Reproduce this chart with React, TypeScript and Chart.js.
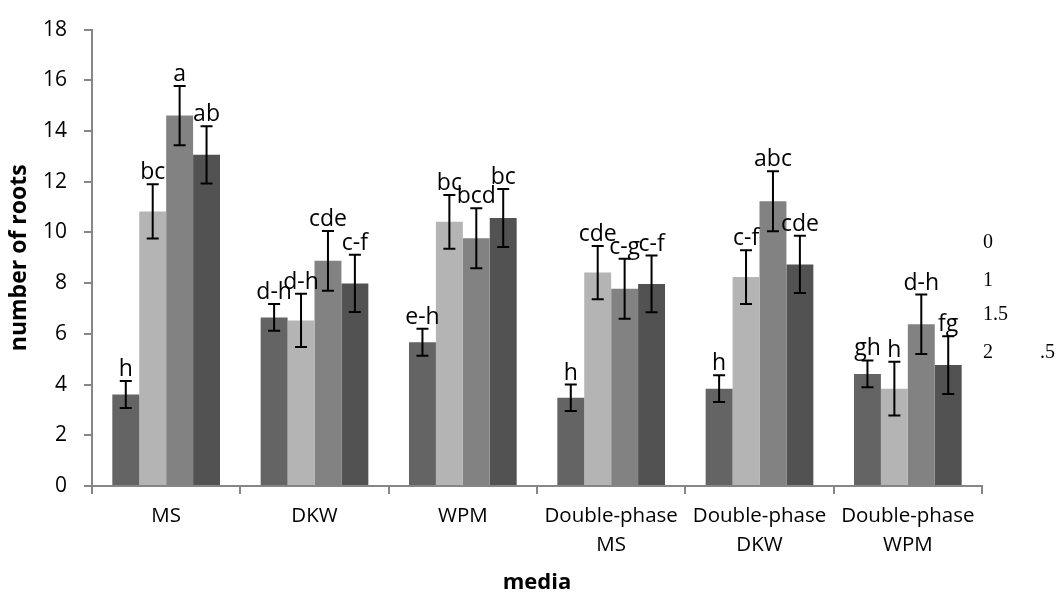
import React, { useEffect, useRef } from "react";
import { Chart, registerables } from "chart.js";

Chart.register(...registerables);

const categories: (string | string[])[] = [
  "MS",
  "DKW",
  "WPM",
  ["Double-phase", "MS"],
  ["Double-phase", "DKW"],
  ["Double-phase", "WPM"],
];

const seriesNames = ["0", "1", "1.5", "2"];

const s0 = [3.61, 6.65, 5.67, 3.48, 3.84, 4.42];
const s1 = [10.83, 6.53, 10.42, 8.42, 8.24, 3.84];
const s2 = [14.61, 8.88, 9.77, 7.78, 11.23, 6.38];
const s3 = [13.06, 7.99, 10.57, 7.97, 8.74, 4.77];

const e0 = [0.53, 0.53, 0.53, 0.52, 0.53, 0.53];
const e1 = [1.07, 1.05, 1.06, 1.05, 1.06, 1.06];
const e2 = [1.17, 1.18, 1.18, 1.18, 1.18, 1.17];
const e3 = [1.13, 1.13, 1.14, 1.12, 1.13, 1.14];

const l0 = ["h", "d-h", "e-h", "h", "h", "gh"];
const l1 = ["bc", "d-h", "bc", "cde", "c-f", "h"];
const l2 = ["a", "cde", "bcd", "c-g", "abc", "d-h"];
const l3 = ["ab", "c-f", "bc", "c-f", "cde", "fg"];

const yTicks = [0, 2, 4, 6, 8, 10, 12, 14, 16, 18];

const values = [s0, s1, s2, s3];
const errors = [e0, e1, e2, e3];
const letters = [l0, l1, l2, l3];
const colors = ["#646464", "#b4b4b4", "#828282", "#525252"];

const FONT = '"Open Sans", sans-serif';

const errorBarPlugin = {
  id: "errorBarsLetters",
  afterDatasetsDraw(chart: any) {
    const ctx = chart.ctx;
    const y = chart.scales.y;
    ctx.save();
    chart.data.datasets.forEach((_ds: any, di: number) => {
      const meta = chart.getDatasetMeta(di);
      meta.data.forEach((bar: any, i: number) => {
        const v = values[di][i];
        const e = errors[di][i];
        const top = y.getPixelForValue(v + e);
        const bot = y.getPixelForValue(v - e);
        const x = bar.x;
        ctx.strokeStyle = "#000";
        ctx.lineWidth = 2;
        ctx.beginPath();
        ctx.moveTo(x, top);
        ctx.lineTo(x, bot);
        ctx.moveTo(x - 6, top);
        ctx.lineTo(x + 6, top);
        ctx.moveTo(x - 6, bot);
        ctx.lineTo(x + 6, bot);
        ctx.stroke();
        ctx.fillStyle = "#000";
        ctx.font = `23px ${FONT}`;
        ctx.textAlign = "center";
        ctx.textBaseline = "alphabetic";
        ctx.fillText(letters[di][i], x, top - 5);
      });
    });
    ctx.restore();
  },
};

export default function App() {
  const ref = useRef<HTMLCanvasElement | null>(null);

  useEffect(() => {
    if (!ref.current) return;
    const chart = new Chart(ref.current, {
      type: "bar",
      data: {
        labels: categories as any,
        datasets: values.map((vals, i) => ({
          label: seriesNames[i],
          data: vals,
          backgroundColor: colors[i],
          borderWidth: 0,
          categoryPercentage: 0.726,
          barPercentage: 1,
        })),
      },
      options: {
        responsive: false,
        animation: false,
        layout: { padding: { left: 0, right: 79, top: 21, bottom: 0 } },
        plugins: {
          legend: { display: false },
          tooltip: { enabled: false },
        },
        scales: {
          x: {
            grid: {
              display: true,
              offset: true,
              drawOnChartArea: false,
              drawTicks: true,
              tickLength: 8,
              color: "#868686",
              lineWidth: 2,
            },
            border: { display: true, color: "#868686", width: 2 },
            ticks: {
              color: "#000",
              font: { family: FONT, size: 20.5, lineHeight: 1.4 },
              padding: 8,
              maxRotation: 0,
              autoSkip: false,
            },
            title: {
              display: true,
              text: "media",
              color: "#000",
              font: { family: FONT, size: 22, weight: "bold" },
              padding: { top: 0, bottom: 0 },
            },
            afterFit: (scale: any) => {
              scale.height = 110;
            },
          },
          y: {
            min: 0,
            max: 18,
            afterBuildTicks: (scale: any) => {
              scale.ticks = yTicks.map((v) => ({ value: v }));
            },
            grid: {
              display: true,
              drawOnChartArea: false,
              drawTicks: true,
              tickLength: 8,
              color: "#868686",
              lineWidth: 2,
            },
            border: { display: true, color: "#868686", width: 2 },
            ticks: {
              color: "#000",
              font: { family: FONT, size: 21 },
              padding: 17,
            },
            title: {
              display: true,
              text: "number of roots",
              color: "#000",
              font: { family: FONT, size: 23, weight: "bold" },
              padding: { top: 6, bottom: 0 },
            },
            afterFit: (scale: any) => {
              scale.width = 92;
            },
          },
        },
      },
      plugins: [errorBarPlugin],
    });
    return () => chart.destroy();
  }, []);

  const legendTops = [241, 279, 313, 351];

  return (
    <div
      style={{
        position: "fixed",
        left: 0,
        top: 0,
        width: 1061,
        height: 596,
        background: "#fff",
      }}
    >
      <canvas ref={ref} width={1061} height={596} style={{ display: "block" }} />
      {seriesNames.map((n, i) => (
        <span
          key={n}
          style={{
            position: "absolute",
            left: 983,
            top: legendTops[i] - 12,
            fontFamily: '"Liberation Serif", serif',
            fontSize: 20,
            lineHeight: "24px",
            color: "#000",
          }}
        >
          {n}
        </span>
      ))}
      <span
        style={{
          position: "absolute",
          left: 1040,
          top: 351 - 12,
          fontFamily: '"Liberation Serif", serif',
          fontSize: 20,
          lineHeight: "24px",
          color: "#000",
        }}
      >
        .5
      </span>
    </div>
  );
}
